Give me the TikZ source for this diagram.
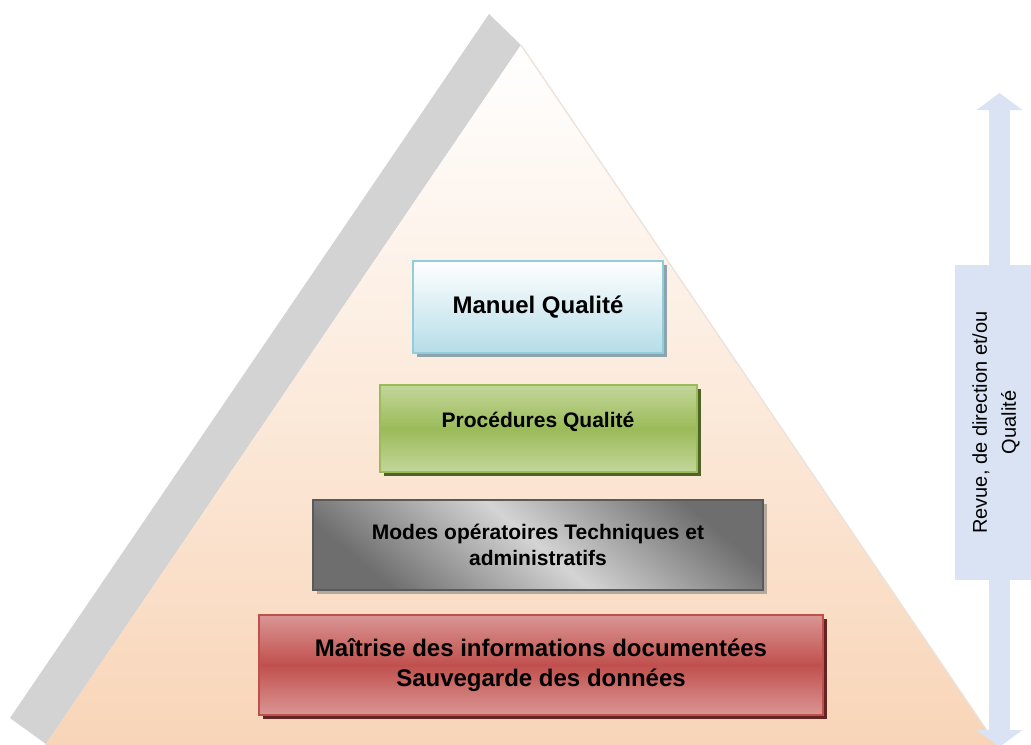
\documentclass[tikz,border=0pt]{standalone}
\usepackage{fontspec}
\setmainfont{Liberation Sans}
\usetikzlibrary{positioning,shadows,arrows.meta}
\definecolor{peach}{RGB}{248,212,182}
\definecolor{bandgray}{RGB}{211,211,211}
\definecolor{edgegray}{RGB}{236,226,220}
\definecolor{mqbot}{RGB}{182,221,232}
\definecolor{mqline}{RGB}{146,205,220}
\definecolor{mqshadow}{RGB}{141,164,172}
\definecolor{pqlight}{RGB}{195,214,155}
\definecolor{pqdark}{RGB}{155,187,89}
\definecolor{pqshadow}{RGB}{79,98,40}
\definecolor{modark}{RGB}{110,110,110}
\definecolor{molight}{RGB}{212,212,212}
\definecolor{moline}{RGB}{90,90,90}
\definecolor{moshadow}{RGB}{180,168,156}
\definecolor{milight}{RGB}{218,150,148}
\definecolor{midark}{RGB}{192,80,77}
\definecolor{mishadow}{RGB}{99,37,35}
\definecolor{revue}{RGB}{218,227,243}

\begin{document}
\begin{tikzpicture}[x=0.75pt, y=-0.75pt,
  box/.style = {draw, line width=1.5pt, align=center, inner sep=0pt},
  big/.style = {font=\bfseries\fontsize{18}{22.5}\selectfont},
  small/.style = {font=\bfseries\fontsize{15.75}{19.5}\selectfont},
  mq/.style = {box, big, draw=mqline, top color=white, bottom color=mqbot, minimum width=187.5pt, minimum height=69pt,
    drop shadow={shadow xshift=3pt, shadow yshift=-3pt, fill=mqshadow, opacity=1}},
  pq/.style = {box, small, draw=pqdark, top color=pqlight, bottom color=pqlight, middle color=pqdark, minimum width=237.75pt, minimum height=65.25pt,
    text height=11pt, text depth=12pt,
    drop shadow={shadow xshift=3pt, shadow yshift=-3pt, fill=pqshadow, opacity=1}},
  mo/.style = {box, small, draw=moline, top color=modark, bottom color=modark, middle color=molight, shading angle=-40, minimum width=337.5pt, minimum height=67.5pt,
    drop shadow={shadow xshift=3pt, shadow yshift=-3pt, fill=moshadow, opacity=1}},
  mi/.style = {box, big, draw=midark, top color=milight, bottom color=milight, middle color=midark, minimum width=423pt, minimum height=75pt,
    drop shadow={shadow xshift=3pt, shadow yshift=-3pt, fill=mishadow, opacity=1}},
  revuebox/.style = {fill=revue, rotate=90, align=center, inner sep=0pt, minimum width=236.25pt, minimum height=61.5pt,
    font=\fontsize{15}{21.75}\selectfont}]
\clip (0,0) rectangle (1031,744);

\coordinate (apex) at (521,45);
\coordinate (bl) at (35,760);
\coordinate (br) at (1007,760);
\fill[bandgray] (489,14) -- (apex) -- (46,744) -- (10,718) -- cycle;
\shade[top color=white, bottom color=peach] (apex) -- (bl) -- (br) -- cycle;
\draw[edgegray, line width=1pt] (apex) -- (br);

\node[mi] (maitrise) at (541,665) {Maîtrise des informations documentées\\Sauvegarde des données};
\node[mo, above=17.25pt of maitrise, xshift=-2.25pt] (modes) {Modes opératoires Techniques et\\administratifs};
\node[pq, above=19.5pt of modes] (proc) {Procédures Qualité};
\node[mq, above=22.5pt of proc] (manuel) {Manuel Qualité};

\coordinate (rtop) at (999.5,93);
\coordinate (rbot) at (999.5,747);
\draw[revue, line width=15.75pt, {Triangle[width=33.75pt,length=12.75pt]}-{Triangle[width=33.75pt,length=12.75pt]}] (rtop) -- (rbot);
\node[revuebox] (rv) at (996,422.5) {Revue, de direction et/ou\\Qualité};
\end{tikzpicture}
\end{document}
